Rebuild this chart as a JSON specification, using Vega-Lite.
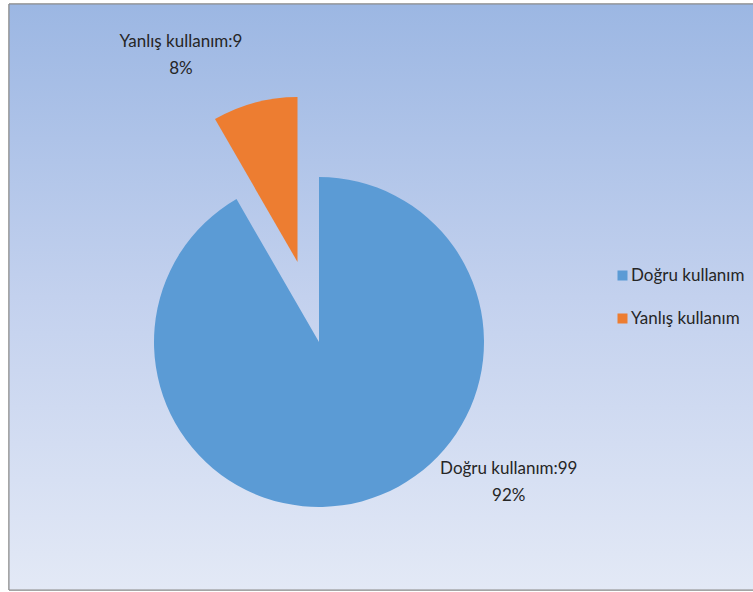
{
  "$schema": "https://vega.github.io/schema/vega-lite/v6.json",
  "width": 745,
  "height": 586,
  "autosize": {"type": "none"},
  "padding": {"left": 9, "top": 4, "right": 0, "bottom": 2},
  "background": "white",
  "config": {
    "view": {"stroke": null}
  },
  "data": {
    "values": [
      {"category": "Doğru kullanım", "count": 99, "label": "Doğru kullanım:99\n92%"},
      {"category": "Yanlış kullanım", "count": 9, "label": "Yanlış kullanım:9\n8%"}
    ]
  },
  "layer": [
    {
      "mark": {
        "type": "rect",
        "fill": {
          "gradient": "linear",
          "x1": 0, "y1": 0, "x2": 0, "y2": 1,
          "stops": [
            {"offset": 0, "color": "#9cb7e3"},
            {"offset": 0.5, "color": "#c3d1ee"},
            {"offset": 1, "color": "#e3e9f6"}
          ]
        },
        "stroke": "#888888",
        "strokeWidth": 1
      },
      "encoding": {}
    },
    {
      "mark": {"type": "arc", "radius": 165, "x": 310, "y": 338},
      "encoding": {
        "theta": {"field": "count", "type": "quantitative", "stack": true},
        "color": {
          "condition": {"test": "datum.category === 'Yanlış kullanım'", "value": "transparent"},
          "field": "category",
          "type": "nominal",
          "scale": {"domain": ["Doğru kullanım", "Yanlış kullanım"], "range": ["#5b9bd5", "#ed7d31"]},
          "legend": {
            "orient": "none",
            "legendX": 605,
            "legendY": 263,
            "title": null,
            "symbolType": "square",
            "symbolSize": 100,
            "symbolStrokeWidth": 0,
            "labelFontSize": 17,
            "labelFont": "Lato",
            "labelColor": "#262626",
            "labelLimit": 200,
            "rowPadding": 25,
            "labelOffset": 0,
            "padding": 0
          }
        }
      }
    },
    {
      "mark": {"type": "arc", "radius": 165, "x": 288.5, "y": 258},
      "encoding": {
        "theta": {"field": "count", "type": "quantitative", "stack": true},
        "color": {
          "condition": {"test": "datum.category === 'Doğru kullanım'", "value": "transparent"},
          "field": "category",
          "type": "nominal"
        }
      }
    },
    {
      "mark": {"type": "text", "radius": 200, "x": 310, "y": 338, "dx": 138, "dy": -66, "lineBreak": "\n", "font": "Lato", "fontSize": 17, "fill": "#262626", "align": "center", "baseline": "middle", "lineHeight": 27},
      "encoding": {
        "theta": {"field": "count", "type": "quantitative", "stack": true},
        "detail": {"field": "category", "type": "nominal"},
        "text": {"condition": {"test": "datum.category === 'Doğru kullanım'", "field": "label", "type": "nominal"}, "value": ""}
      }
    },
    {
      "mark": {"type": "text", "radius": 290, "x": 310, "y": 338, "dx": -63, "dy": -20, "lineBreak": "\n", "font": "Lato", "fontSize": 17, "fill": "#262626", "align": "center", "baseline": "middle", "lineHeight": 27},
      "encoding": {
        "theta": {"field": "count", "type": "quantitative", "stack": true},
        "detail": {"field": "category", "type": "nominal"},
        "text": {"condition": {"test": "datum.category === 'Yanlış kullanım'", "field": "label", "type": "nominal"}, "value": ""}
      }
    }
  ]
}
